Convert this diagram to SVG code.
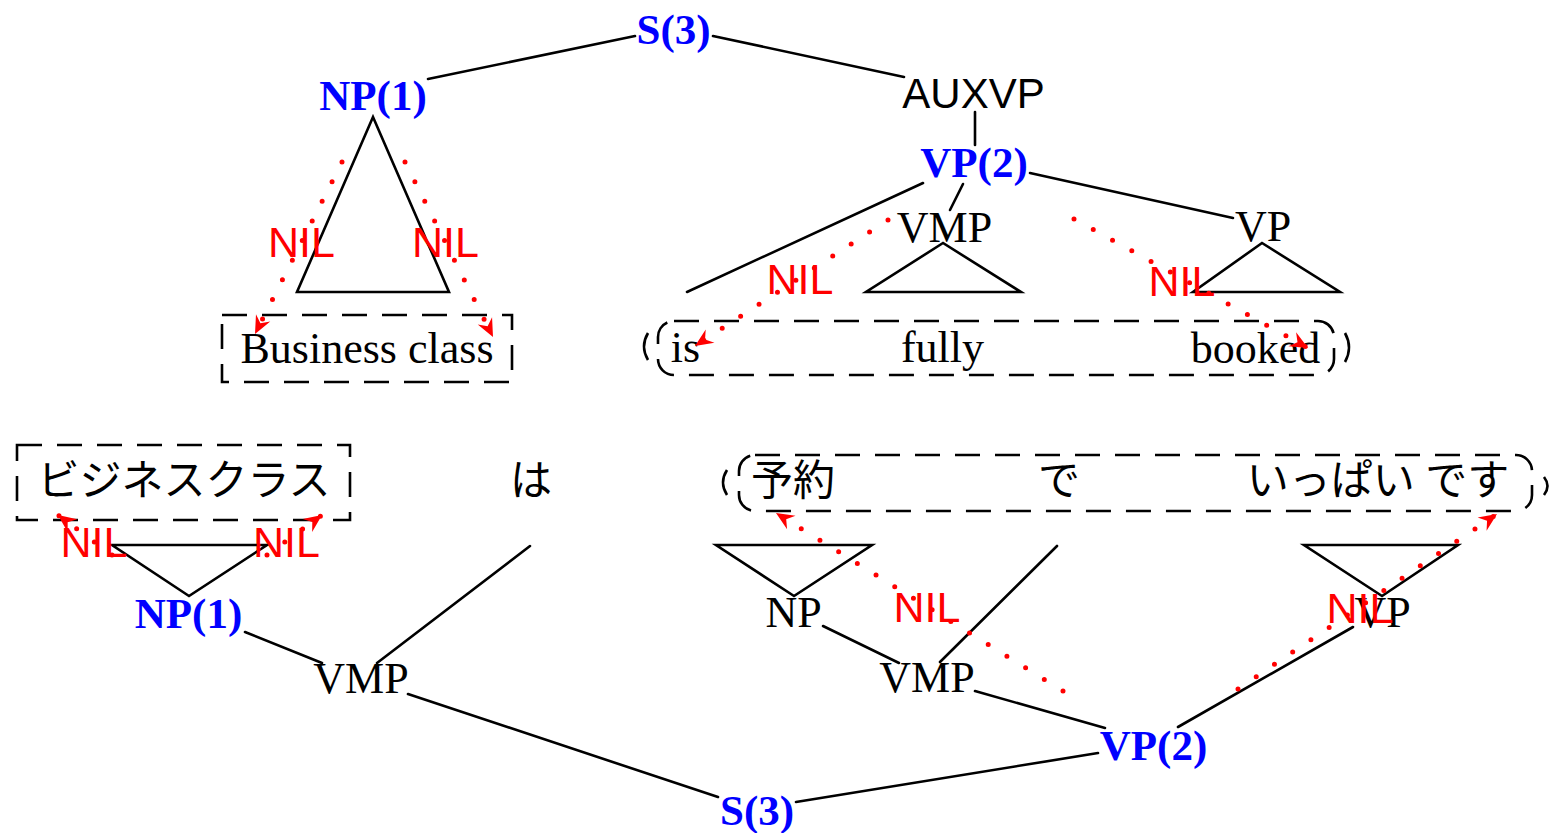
<svg xmlns="http://www.w3.org/2000/svg" width="1565" height="833" viewBox="0 0 1565 833">
  <defs>
    <marker id="arr" viewBox="-19 -9 20 18" refX="0" refY="0" markerWidth="20" markerHeight="18" orient="auto" markerUnits="userSpaceOnUse">
      <path d="M0,0 L-18,-8 L-12,0 L-18,8 Z" fill="#ff0000"/>
    </marker>
    <style>
      .lbl { font-family: "Liberation Serif", "Times New Roman", serif; font-size: 44px; fill: #000; text-anchor: middle; }
      .hd { font-family: "Liberation Serif", "Times New Roman", serif; font-size: 43px; font-weight: bold; fill: #0000ff; text-anchor: middle; }
      .sans { font-family: "Liberation Sans", Arial, sans-serif; font-size: 42px; fill: #000; text-anchor: middle; }
      .nil { font-family: "Liberation Sans", Arial, sans-serif; font-size: 43px; fill: #ff0000; text-anchor: middle; }
      .jp { font-family: "Liberation Serif", "Noto Sans CJK JP", serif; font-size: 42px; fill: #000; text-anchor: middle; }
      .edge { stroke: #000; stroke-width: 2.6; fill: none; stroke-linecap: round; }
      .tri { stroke: #000; stroke-width: 2.6; fill: none; stroke-linejoin: miter; }
      .box { stroke: #000; stroke-width: 2.6; fill: none; stroke-dasharray: 25 15; }
      .paren { stroke: #000; stroke-width: 2.6; fill: none; }
      .nilpath { stroke: #ff0000; stroke-width: 5; fill: none; stroke-linecap: round; stroke-dasharray: 0 22; marker-end: url(#arr); }
    </style>
  </defs>
  <rect width="1565" height="833" fill="#fff"/>

  <!-- tree edges -->
  <g id="connectors">
    <!-- English tree -->
    <line class="edge" x1="635" y1="36" x2="428" y2="79"/>
    <line class="edge" x1="713" y1="36" x2="904" y2="77"/>
    <line class="edge" x1="975" y1="112" x2="975" y2="145"/>
    <line class="edge" x1="923" y1="183" x2="687" y2="292"/>
    <line class="edge" x1="963" y1="184" x2="950" y2="210"/>
    <line class="edge" x1="1030" y1="173" x2="1233" y2="218"/>
    <!-- Japanese tree -->
    <line class="edge" x1="245" y1="632" x2="322" y2="663"/>
    <line class="edge" x1="530" y1="546" x2="377" y2="663"/>
    <line class="edge" x1="408" y1="694" x2="718" y2="797"/>
    <line class="edge" x1="796" y1="802" x2="1098" y2="753"/>
    <line class="edge" x1="823" y1="626" x2="899" y2="663"/>
    <line class="edge" x1="1057" y1="546" x2="940" y2="662"/>
    <line class="edge" x1="975" y1="691" x2="1105" y2="728"/>
    <line class="edge" x1="1178" y1="727" x2="1353" y2="627"/>
  </g>

  <!-- English side -->
  <g id="s3-top"><text class="hd" x="673.5" y="44">S(3)</text></g>
  <g id="np1-top">
    <text class="hd" x="373" y="110">NP(1)</text>
    <path class="tri" d="M373,117 L297,292 L449,292 Z"/>
  </g>
  <g id="auxvp"><text class="sans" x="973.5" y="108">AUXVP</text></g>
  <g id="vp2-top"><text class="hd" x="974" y="177">VP(2)</text></g>
  <g id="vmp-top">
    <text class="lbl" x="944.5" y="242">VMP</text>
    <path class="tri" d="M943,243 L866,292 L1021,292 Z"/>
  </g>
  <g id="vp-top">
    <text class="lbl" x="1263" y="241">VP</text>
    <path class="tri" d="M1262,243 L1193,292 L1340,292 Z"/>
  </g>
  <g id="business-class">
    <rect class="box" x="222" y="315" width="290" height="67"/>
    <text class="lbl" x="367" y="363">Business class</text>
  </g>
  <g id="is-fully-booked">
    <rect class="box" x="658" y="321" width="676" height="54" rx="16"/>
    <path class="paren" d="M648,333 Q640,346.5 648,360"/>
    <path class="paren" d="M1345,333 Q1353,347.5 1345,362"/>
    <text class="lbl" x="685.5" y="362">is</text>
    <text class="lbl" x="942.5" y="362">fully</text>
    <text class="lbl" x="1255.5" y="363">booked</text>
  </g>

  <!-- Japanese side -->
  <g id="bijinesu-kurasu">
    <rect class="box" x="17" y="445" width="333" height="75"/>
    <text class="jp" x="184" y="495">ビジネスクラス</text>
  </g>
  <g id="wa"><text class="jp" x="531" y="495">は</text></g>
  <g id="yoyaku-de-ippai-desu">
    <rect class="box" x="739" y="455" width="793" height="56" rx="16"/>
    <path class="paren" d="M727,470 Q719,482.5 727,495"/>
    <path class="paren" d="M1544,477 Q1551,486 1544,495"/>
    <text class="jp" x="793" y="495">予約</text>
    <text class="jp" x="1059" y="495">で</text>
    <text class="jp" x="1378" y="495">いっぱい です</text>
  </g>
  <g id="np1-bottom">
    <path class="tri" d="M189,596 L112,545 L267,545 Z"/>
    <text class="hd" x="188.5" y="628">NP(1)</text>
  </g>
  <g id="vmp-left"><text class="lbl" x="361" y="693">VMP</text></g>
  <g id="s3-bottom"><text class="hd" x="757" y="825">S(3)</text></g>
  <g id="np-bottom">
    <path class="tri" d="M794,596 L716,545 L872,545 Z"/>
    <text class="lbl" x="793.5" y="627">NP</text>
  </g>
  <g id="vmp-right"><text class="lbl" x="927" y="692">VMP</text></g>
  <g id="vp2-bottom"><text class="hd" x="1153.5" y="760">VP(2)</text></g>
  <g id="vp-bottom">
    <path class="tri" d="M1382,596 L1304,545 L1458,545 Z"/>
    <text class="lbl" x="1382.5" y="627">VP</text>
  </g>

  <!-- NIL alignments (dotted arrows) -->
  <g id="nil-links">
    <text class="nil" x="301.5" y="257">NIL</text>
    <text class="nil" x="445.5" y="257">NIL</text>
    <text class="nil" x="800" y="294">NIL</text>
    <text class="nil" x="1182" y="296">NIL</text>
    <text class="nil" x="94" y="557">NIL</text>
    <text class="nil" x="286.5" y="557">NIL</text>
    <text class="nil" x="927" y="622">NIL</text>
    <text class="nil" x="1360" y="623">NIL</text>

    <path class="nilpath" d="M342,162 L255,334"/>
    <path class="nilpath" d="M405,162 L493,337"/>
    <path class="nilpath" d="M888,220 L695,346"/>
    <path class="nilpath" d="M1074,219 L1308,348"/>
    <path class="nilpath" d="M112,555 L58,515"/>
    <path class="nilpath" d="M267,555 L322,515"/>
    <path class="nilpath" d="M1063,691 L776,513"/>
    <path class="nilpath" d="M1238,689 L1497,514"/>
  </g>
</svg>
